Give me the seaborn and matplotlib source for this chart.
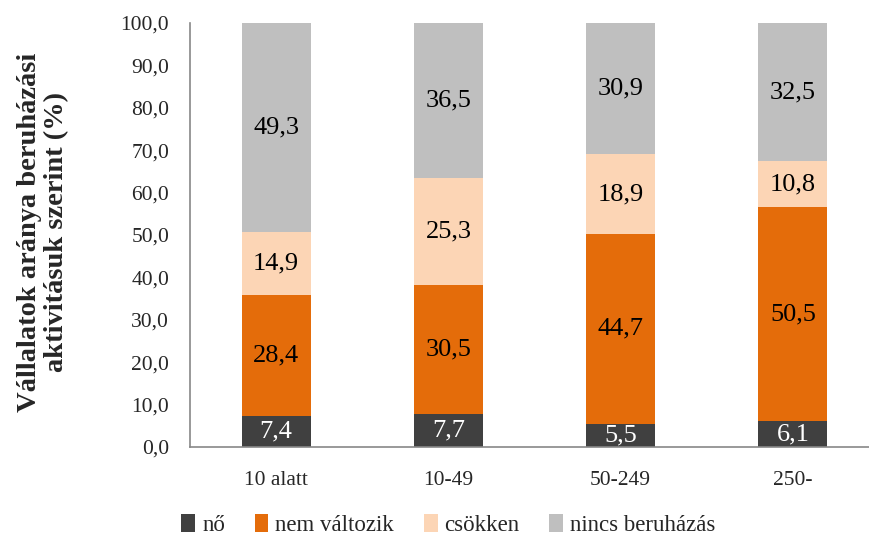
import numpy as np
import matplotlib
matplotlib.use("Agg")
import matplotlib.pyplot as plt
import seaborn as sns
from matplotlib.patches import Patch

# adatok
kategoriak = ['10 alatt', '10-49', '50-249', '250-']
no = [7.4, 7.7, 5.5, 6.1]
nem_valtozik = [28.4, 30.5, 44.7, 50.5]
csokken = [14.9, 25.3, 18.9, 10.8]
nincs = [49.3, 36.5, 30.9, 32.5]

sorozat_nevek = ['nő', 'nem változik', 'csökken', 'nincs beruházás']
sorozatok = [no, nem_valtozik, csokken, nincs]
szinek = ['#404040', '#E46C0A', '#FCD5B5', '#BFBFBF']
felirat_szinek = ['white', 'black', 'black', 'black']

sns.set_style('white')
plt.rcParams['font.family'] = ['Liberation Serif', 'DejaVu Serif']

fig = plt.figure(figsize=(8.69, 5.38), dpi=100)
ax = fig.add_axes([190/869, 1-447/538, 689/869, 424/538])

also = np.zeros(len(kategoriak))
for nev, ertek, szin, fszin in zip(sorozat_nevek, sorozatok, szinek, felirat_szinek):
    sns.barplot(x=kategoriak, y=ertek, bottom=also, color=szin, width=0.4,
                saturation=1, ax=ax, linewidth=0)
    cont = ax.containers[-1]
    ax.bar_label(cont, labels=[f'{v:.1f}'.replace('.', ',') for v in ertek],
                 label_type='center', color=fszin, fontsize=19)
    also = also + np.array(ertek)

ax.set_ylim(0, 100)
ax.set_xlim(-0.5, 3.5)
ax.set_yticks(np.arange(0, 101, 10))
ax.set_yticklabels([f'{v:.1f}'.replace('.', ',') for v in np.arange(0, 101, 10)], fontsize=15.5)

# kategória feliratok a középen, osztóvonalak a kategóriák között
ax.set_xticks([-0.5, 0.5, 1.5, 2.5, 3.5])
ax.set_xticklabels([])
ax.set_xticks(range(len(kategoriak)), minor=True)
ax.set_xticklabels(kategoriak, minor=True, fontsize=15.5)
ax.tick_params(axis='x', which='minor', length=0, pad=17)
ax.tick_params(axis='x', which='major', length=5, width=1.2, color='#888888', direction='out')
ax.tick_params(axis='y', length=5, width=1.2, color='#888888', direction='out', pad=10)

for s in ['top', 'right']:
    ax.spines[s].set_visible(False)
for s in ['left', 'bottom']:
    ax.spines[s].set_color('#888888')
    ax.spines[s].set_linewidth(1.2)

ax.set_ylabel('Vállalatok aránya beruházási\naktivitásuk szerint (%)', fontsize=20.5,
              fontweight='bold', linespacing=1.1)
ax.yaxis.set_label_coords(-0.176, 0.507)

handles = [Patch(facecolor=c, edgecolor='none') for c in szinek]
fig.legend(handles, sorozat_nevek, loc='center', bbox_to_anchor=(0.516, 0.024), ncol=4,
           frameon=False, fontsize=16.5, handlelength=0.6, handleheight=0.8,
           handletextpad=0.3, columnspacing=1.3)

fig.savefig('out.png', dpi=100)
